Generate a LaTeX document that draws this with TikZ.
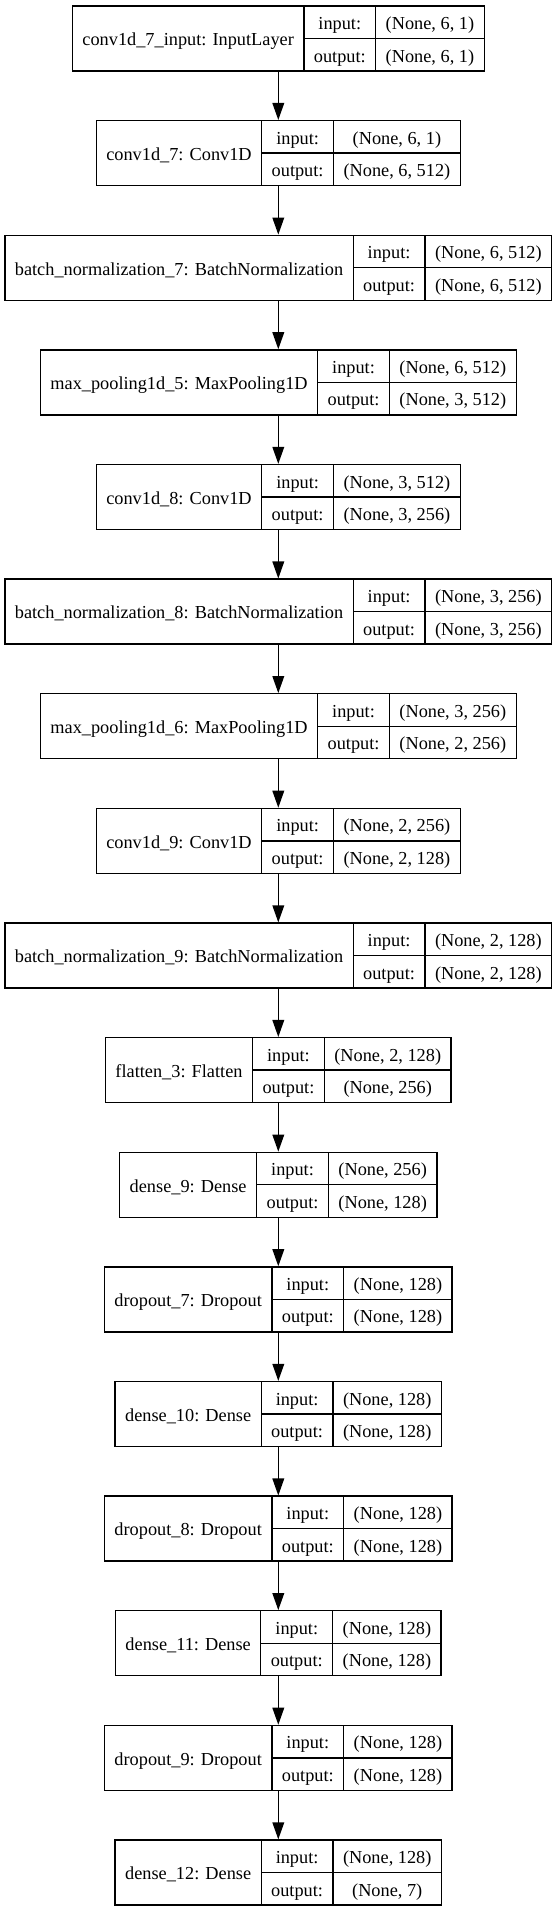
\documentclass[tikz,border=0pt]{standalone}
\usepackage{fontspec}
\setmainfont{Liberation Serif}
\usetikzlibrary{arrows.meta}
\newlength\lyA \newlength\lyB \newlength\lyC \newlength\lyD
\newcommand\lyfont{\fontsize{18.3pt}{22pt}\selectfont}
\tikzset{
  layerbox/.style={draw, line width=1.3pt, inner sep=0pt, minimum height=65pt},
  lytext/.style={font=\lyfont, inner sep=0pt, anchor=base},
  divline/.style={line width=1.3pt},
  arr/.style={line width=1.3pt, -{Triangle[length=17pt,width=11.7pt]}}
}
\newcommand\lymeasure[4]{%
  \settowidth\lyA{\normalfont\lyfont #2}%
  \settowidth\lyB{\normalfont\lyfont output:}%
  \settowidth\lyC{\normalfont\lyfont #3}%
  \settowidth\lyD{\normalfont\lyfont #4}%
  \ifdim\lyD>\lyC \lyC=\lyD\fi
  \expandafter\xdef\csname lywa#1\endcsname{\the\lyA}%
  \expandafter\xdef\csname lywb#1\endcsname{\the\lyB}%
  \expandafter\xdef\csname lywc#1\endcsname{\the\lyC}%
}
\newcommand\mklayer[5]{%
  \pgfmathsetmacro\lyWa{\csname lywa#1\endcsname}%
  \pgfmathsetmacro\lyWb{\csname lywb#1\endcsname}%
  \pgfmathsetmacro\lyWc{\csname lywc#1\endcsname}%
  \pgfmathsetmacro\lyW{\lyWa+\lyWb+\lyWc+60}%
  \pgfmathsetmacro\lyT{-6-114.625*#5}%
  \pgfmathsetmacro\lyM{\lyT-32.5}%
  \pgfmathsetmacro\lyBt{\lyT-65}%
  \pgfmathsetmacro\lyL{278.3-\lyW/2}%
  \pgfmathsetmacro\lyX{\lyL+\lyWa+20}%
  \pgfmathsetmacro\lyY{\lyX+\lyWb+20}%
  \pgfmathsetmacro\lyR{\lyY+\lyWc+20}%
  \pgfmathsetmacro\lyCa{(\lyL+\lyX)/2}%
  \pgfmathsetmacro\lyCb{(\lyX+\lyY)/2}%
  \pgfmathsetmacro\lyCc{(\lyY+\lyR)/2}%
  \pgfmathsetmacro\lyBa{\lyM-7.3}%
  \pgfmathsetmacro\lyBb{\lyT-16.25-7.3}%
  \pgfmathsetmacro\lyBc{\lyT-48.75-7.3}%
  \node[layerbox, minimum width=\lyW pt] (#1) at (278.3pt,\lyM pt) {};
  \draw[divline] (\lyX pt,\lyT pt) -- (\lyX pt,\lyBt pt);
  \draw[divline] (\lyY pt,\lyT pt) -- (\lyY pt,\lyBt pt);
  \draw[divline] (\lyX pt,\lyM pt) -- (\lyR pt,\lyM pt);
  \node[lytext] (#1-name) at (\lyCa pt,\lyBa pt) {#2};
  \node[lytext] (#1-in) at (\lyCb pt,\lyBb pt) {input:};
  \node[lytext] (#1-out) at (\lyCb pt,\lyBc pt) {output:};
  \node[lytext] (#1-vin) at (\lyCc pt,\lyBb pt) {#3};
  \node[lytext] (#1-vout) at (\lyCc pt,\lyBc pt) {#4};
}
\newcommand\lyboth[5]{\lymeasure{#1}{#2}{#3}{#4}\expandafter\gdef\csname lydo#1\endcsname{\mklayer{#1}{#2}{#3}{#4}{#5}}}
\begin{document}%
\lyboth{L0}{conv1d\_7\_input: InputLayer}{(None, 6, 1)}{(None, 6, 1)}{0}%
\lyboth{L1}{conv1d\_7: Conv1D}{(None, 6, 1)}{(None, 6, 512)}{1}%
\lyboth{L2}{batch\_normalization\_7: BatchNormalization}{(None, 6, 512)}{(None, 6, 512)}{2}%
\lyboth{L3}{max\_pooling1d\_5: MaxPooling1D}{(None, 6, 512)}{(None, 3, 512)}{3}%
\lyboth{L4}{conv1d\_8: Conv1D}{(None, 3, 512)}{(None, 3, 256)}{4}%
\lyboth{L5}{batch\_normalization\_8: BatchNormalization}{(None, 3, 256)}{(None, 3, 256)}{5}%
\lyboth{L6}{max\_pooling1d\_6: MaxPooling1D}{(None, 3, 256)}{(None, 2, 256)}{6}%
\lyboth{L7}{conv1d\_9: Conv1D}{(None, 2, 256)}{(None, 2, 128)}{7}%
\lyboth{L8}{batch\_normalization\_9: BatchNormalization}{(None, 2, 128)}{(None, 2, 128)}{8}%
\lyboth{L9}{flatten\_3: Flatten}{(None, 2, 128)}{(None, 256)}{9}%
\lyboth{L10}{dense\_9: Dense}{(None, 256)}{(None, 128)}{10}%
\lyboth{L11}{dropout\_7: Dropout}{(None, 128)}{(None, 128)}{11}%
\lyboth{L12}{dense\_10: Dense}{(None, 128)}{(None, 128)}{12}%
\lyboth{L13}{dropout\_8: Dropout}{(None, 128)}{(None, 128)}{13}%
\lyboth{L14}{dense\_11: Dense}{(None, 128)}{(None, 128)}{14}%
\lyboth{L15}{dropout\_9: Dropout}{(None, 128)}{(None, 128)}{15}%
\lyboth{L16}{dense\_12: Dense}{(None, 128)}{(None, 7)}{16}%
\begin{tikzpicture}[x=1pt,y=1pt]
\path[use as bounding box, fill=white] (0,0) rectangle (557,-1912);
\foreach \n in {0,...,16} {\csname lydoL\n\endcsname}
\foreach \a/\b in {L0/L1,L1/L2,L2/L3,L3/L4,L4/L5,L5/L6,L6/L7,L7/L8,L8/L9,L9/L10,L10/L11,L11/L12,L12/L13,L13/L14,L14/L15,L15/L16}
  \draw[arr] (\a.south) -- (\b.north);
\end{tikzpicture}%
\end{document}
